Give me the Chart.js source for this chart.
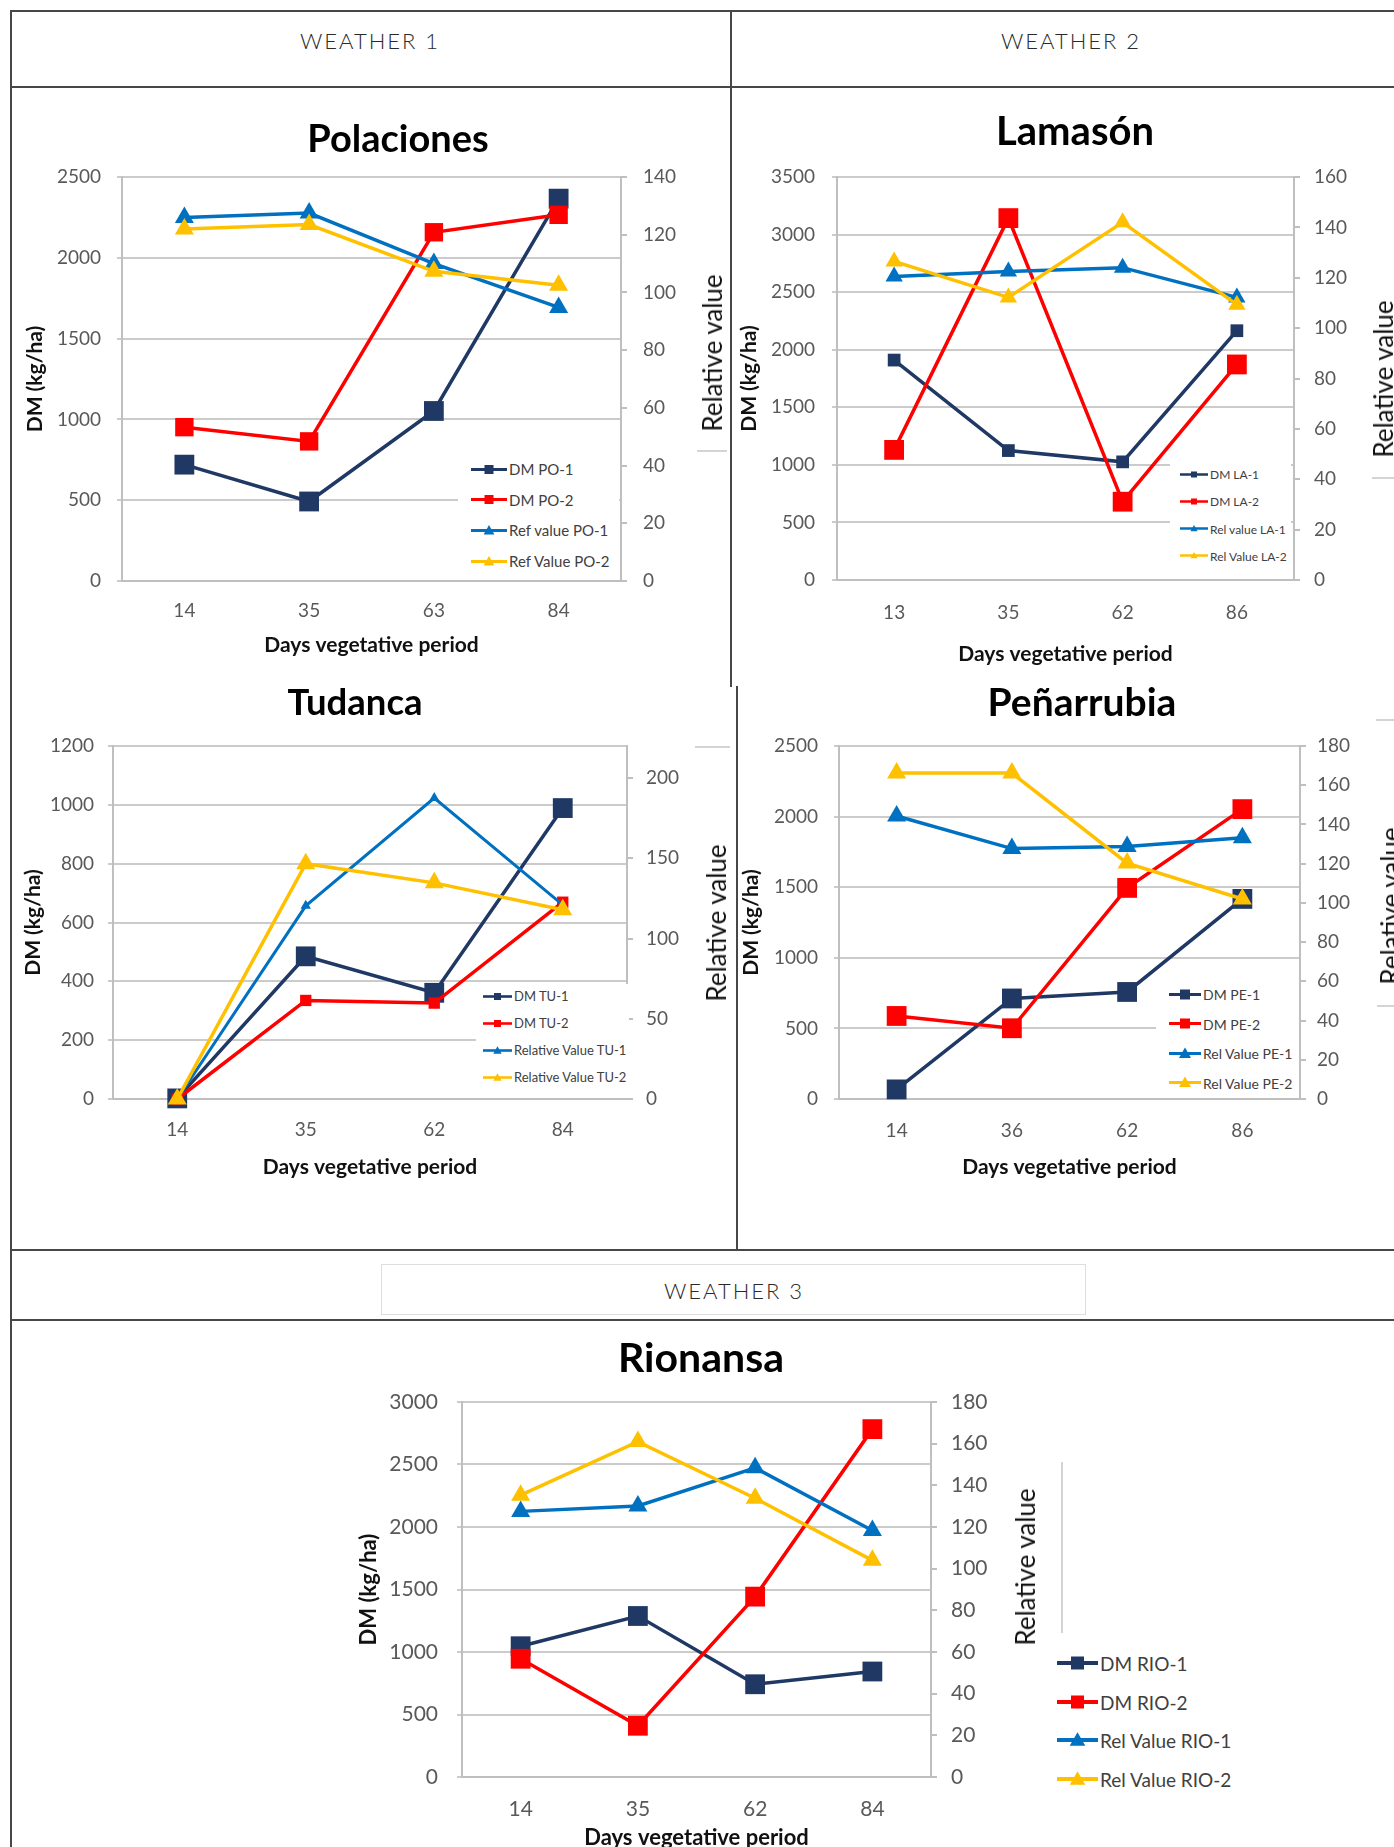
<!DOCTYPE html>
<html>
<head>
<meta charset="utf-8">
<title>DM and relative value by weather zone</title>
<script src="https://cdn.jsdelivr.net/npm/chart.js@4.4.1/dist/chart.umd.min.js"></script>
<style>
  html, body { margin: 0; padding: 0; background: #fff; }
  #page { position: relative; width: 1394px; height: 1847px; overflow: hidden; font-family: Lato, 'Open Sans', sans-serif; }
  .rule { position: absolute; background: #474747; }
  .faint { position: absolute; background: #d4d4d4; }
  .head { position: absolute; transform: translate(-50%, -50%); font-size: 22px; font-weight: 300; letter-spacing: 2px; color: #2a2a2a; white-space: nowrap; }
  .ttl { position: absolute; transform: translate(-50%, -50%); font-weight: 700; color: #000; white-space: nowrap; }
  .rv { position: absolute; transform: translate(-50%, -50%) rotate(-90deg); color: #111; white-space: nowrap; }
  canvas { position: absolute; }
  .legend { position: absolute; }
  .legend .item { position: absolute; display: flex; align-items: center; white-space: nowrap; transform: translateY(-50%); color: #404040; }
  .legend svg { margin-right: 2px; }
</style>
</head>
<body>
<div id="page"></div>
<script>
// ---- data ----
const daysPO = ['14', '35', '63', '84'];
const seriesPO = ['DM PO-1', 'DM PO-2', 'Ref value PO-1', 'Ref Value PO-2'];
const dmPO1 = [720, 492, 1052, 2366];
const dmPO2 = [952, 864, 2158, 2266];
const relPO1 = [126, 127.5, 110, 94.8];
const relPO2 = [122, 123.5, 107.3, 102.5];
const dmAxisPO = { max: 2500, step: 500 };
const relAxisPO = { max: 140, step: 20 };

const daysLA = ['13', '35', '62', '86'];
const seriesLA = ['DM LA-1', 'DM LA-2', 'Rel value LA-1', 'Rel Value LA-2'];
const dmLA1 = [1910, 1124, 1026, 2165];
const dmLA2 = [1130, 3143, 680, 1872];
const relLA1 = [120.5, 122.5, 124, 112.2];
const relLA2 = [126.5, 112.2, 142, 109.3];
const dmAxisLA = { max: 3500, step: 500 };
const relAxisLA = { max: 160, step: 20 };

const daysTU = ['14', '35', '62', '84'];
const seriesTU = ['DM TU-1', 'DM TU-2', 'Relative Value TU-1', 'Relative Value TU-2'];
const dmTU1 = [2, 485, 361, 989];
const dmTU2 = [0, 335, 326, 669];
const relTU1 = [0, 120.4, 187.6, 121];
const relTU2 = [0, 146.6, 134.7, 118];
const dmAxisTU = { max: 1200, step: 200 };
const relAxisTU = { max: 220, step: 50 };

const daysPE = ['14', '36', '62', '86'];
const seriesPE = ['DM PE-1', 'DM PE-2', 'Rel Value PE-1', 'Rel Value PE-2'];
const dmPE1 = [68, 712, 758, 1417];
const dmPE2 = [588, 501, 1495, 2053];
const relPE1 = [144.3, 127.7, 128.7, 133.2];
const relPE2 = [166.2, 166.2, 120.3, 102];
const dmAxisPE = { max: 2500, step: 500 };
const relAxisPE = { max: 180, step: 20 };

const daysRIO = ['14', '35', '62', '84'];
const seriesRIO = ['DM RIO-1', 'DM RIO-2', 'Rel Value RIO-1', 'Rel Value RIO-2'];
const dmRIO1 = [1046, 1288, 742, 844];
const dmRIO2 = [946, 410, 1443, 2783];
const relRIO1 = [127.5, 130.1, 148.4, 118.3];
const relRIO2 = [135.3, 161, 133.8, 104];
const dmAxisRIO = { max: 3000, step: 500 };
const relAxisRIO = { max: 180, step: 20 };

// ---- styles ----
const seriesColors = ['#1F3864', '#FF0000', '#0070C0', '#FFC000'];
const gridGrey = '#cbcbcb';
const axisGrey = '#bfbfbf';
const tickGrey = '#595959';
const TOP_PAD = 40;

Chart.defaults.font.family = 'Lato';

const page = document.getElementById('page');

function el(cls, css, text) {
  const d = document.createElement('div');
  d.className = cls;
  Object.assign(d.style, css);
  if (text) d.textContent = text;
  page.appendChild(d);
  return d;
}

// table frame
[
  [10, 10, 1384, 2], [10, 10, 2, 1837], [10, 86, 1384, 2],
  [730, 10, 2, 677], [736, 686, 2, 565],
  [10, 1249, 1384, 2], [10, 1319, 1384, 2]
].forEach(([x, y, w, h]) => el('rule', { left: x + 'px', top: y + 'px', width: w + 'px', height: h + 'px' }));
el('faint', { left: '381px', top: '1264px', width: '703px', height: '49px', background: 'transparent', border: '1px solid #dedede' });
[
  [697, 450, 30, 1.5], [1372, 477, 22, 1.5], [695, 746, 35, 1.5],
  [1376, 719, 18, 1.5], [1377, 1005, 17, 1.5], [1061, 1462, 1.5, 171]
].forEach(([x, y, w, h]) => el('faint', { left: x + 'px', top: y + 'px', width: w + 'px', height: h + 'px' }));

el('head', { left: '370px', top: '40px' }, 'WEATHER 1');
el('head', { left: '1071px', top: '40px' }, 'WEATHER 2');
el('head', { left: '734px', top: '1290px' }, 'WEATHER 3');

const panels = [
  { title: 'Polaciones', titleAt: [398, 137], titleSize: 38,
    days: daysPO, names: seriesPO, values: [dmPO1, dmPO2, relPO1, relPO2], dm: dmAxisPO, rel: relAxisPO,
    plot: { l: 122, t: 177, r: 621, b: 581 }, yLabelRight: 101, y1LabelLeft: 643, dmTitleX: 35,
    xLabelY: 611, xTitleY: 645, tickSize: 19, axisTitle: 21, rvAt: [712, 353], rvSize: 26,
    radii: [14, 13, 11, 11], widths: [3.5, 3.5, 3.5, 3.5],
    legend: { box: [458, 452, 619, 579], x: 471, y: 469, gap: 30.7, sym: 36, font: 15, mark: 9 } },
  { title: 'Lamasón', titleAt: [1075, 130], titleSize: 40,
    days: daysLA, names: seriesLA, values: [dmLA1, dmLA2, relLA1, relLA2], dm: dmAxisLA, rel: relAxisLA,
    plot: { l: 837, t: 177, r: 1294, b: 580 }, yLabelRight: 815, y1LabelLeft: 1314, dmTitleX: 749,
    xLabelY: 613, xTitleY: 654, tickSize: 19, axisTitle: 21, rvAt: [1383, 379], rvSize: 26,
    radii: [9, 14, 10, 10], widths: [3.5, 3.5, 3.5, 3.5],
    legend: { box: [1170, 458, 1291, 578], x: 1180, y: 474, gap: 27.3, sym: 28, font: 12, mark: 6 } },
  { title: 'Tudanca', titleAt: [355, 701], titleSize: 36.5,
    days: daysTU, names: seriesTU, values: [dmTU1, dmTU2, relTU1, relTU2], dm: dmAxisTU, rel: relAxisTU,
    plot: { l: 113, t: 746, r: 627, b: 1099 }, yLabelRight: 94, y1LabelLeft: 646, dmTitleX: 33,
    xLabelY: 1130, xTitleY: 1167, tickSize: 19, axisTitle: 21, rvAt: [716, 923], rvSize: 26,
    radii: [14, 8, 6, 11], widths: [3.5, 3.5, 3, 3.5],
    legend: { box: [476, 984, 629, 1098], x: 483, y: 996, gap: 27, sym: 29, font: 13, mark: 7 } },
  { title: 'Peñarrubia', titleAt: [1082, 701], titleSize: 39,
    days: daysPE, names: seriesPE, values: [dmPE1, dmPE2, relPE1, relPE2], dm: dmAxisPE, rel: relAxisPE,
    plot: { l: 839, t: 746, r: 1300, b: 1099 }, yLabelRight: 818, y1LabelLeft: 1317, dmTitleX: 751,
    xLabelY: 1131, xTitleY: 1167, tickSize: 19, axisTitle: 21, rvAt: [1390, 906], rvSize: 26,
    radii: [14, 14, 11, 11], widths: [3.5, 3.5, 3.5, 3.5],
    legend: { box: [1156, 985, 1299, 1097], x: 1169, y: 994, gap: 29.5, sym: 32, font: 14, mark: 10 } },
  { title: 'Rionansa', titleAt: [701, 1356], titleSize: 41,
    days: daysRIO, names: seriesRIO, values: [dmRIO1, dmRIO2, relRIO1, relRIO2], dm: dmAxisRIO, rel: relAxisRIO,
    plot: { l: 462, t: 1402, r: 931, b: 1777 }, yLabelRight: 438, y1LabelLeft: 951, dmTitleX: 369,
    xLabelY: 1809, xTitleY: 1838, tickSize: 21, axisTitle: 22, rvAt: [1025, 1567], rvSize: 26,
    radii: [14, 14, 11, 11], widths: [3.5, 3.5, 3.5, 3.5],
    legend: { box: null, x: 1057, y: 1663, gap: 38.7, sym: 41, font: 19, mark: 13 } }
];

function symbol(color, isRect, sym, mark, lw) {
  const h = mark + 6, c = h / 2;
  const m = isRect
    ? `<rect x="${sym / 2 - mark / 2}" y="${c - mark / 2}" width="${mark}" height="${mark}" fill="${color}"/>`
    : `<polygon points="${sym / 2},${c - mark * 0.6} ${sym / 2 + mark * 0.6},${c + mark * 0.45} ${sym / 2 - mark * 0.6},${c + mark * 0.45}" fill="${color}"/>`;
  return `<svg width="${sym}" height="${h}"><line x1="0" y1="${c}" x2="${sym}" y2="${c}" stroke="${color}" stroke-width="${lw}"/>${m}</svg>`;
}

function buildLegend(chart, p) {
  const L = p.legend;
  const ox = L.box ? L.box[0] : 0, oy = L.box ? L.box[1] : 0;
  const box = el('legend', L.box
    ? { left: ox + 'px', top: oy + 'px', width: (L.box[2] - ox) + 'px', height: (L.box[3] - oy) + 'px', background: '#fff' }
    : { left: '0px', top: '0px' });
  chart.data.datasets.forEach((ds, i) => {
    const item = document.createElement('div');
    item.className = 'item';
    item.style.left = (L.x - ox) + 'px';
    item.style.top = (L.y + i * L.gap - oy) + 'px';
    item.style.fontSize = L.font + 'px';
    item.innerHTML = symbol(ds.borderColor, ds.pointStyle === 'rect', L.sym, L.mark, Math.max(2, L.font / 5)) + `<span>${ds.label}</span>`;
    box.appendChild(item);
  });
}

function makePanel(p) {
  // the y scales ask for (half label + tick padding) above the plot, so leave a fixed roomy margin
  const cl = p.dmTitleX - 16, ct = p.plot.t - TOP_PAD, cr = p.plot.r + 80, cb = p.xTitleY + 16;
  const canvas = document.createElement('canvas');
  canvas.width = cr - cl;
  canvas.height = cb - ct;
  canvas.style.left = cl + 'px';
  canvas.style.top = ct + 'px';
  page.appendChild(canvas);

  const tickFont = { family: 'Lato', size: p.tickSize };
  const titleFont = { family: 'Lato', size: p.axisTitle, weight: 'bold' };
  const tickLH = p.tickSize * 1.2, titleLH = p.axisTitle * 1.2;

  const chart = new Chart(canvas, {
    type: 'line',
    data: {
      labels: p.days,
      datasets: p.values.map((v, i) => ({
        label: p.names[i],
        data: v,
        yAxisID: i < 2 ? 'y' : 'y1',
        borderColor: seriesColors[i],
        backgroundColor: seriesColors[i],
        borderWidth: p.widths[i],
        pointStyle: i < 2 ? 'rect' : 'triangle',
        pointRadius: p.radii[i],
        pointBorderWidth: 0,
        tension: 0,
        clip: false,
        order: 4 - i
      }))
    },
    options: {
      responsive: false,
      animation: false,
      layout: { padding: { top: TOP_PAD, left: 0, right: 0, bottom: 0 } },
      plugins: { legend: { display: false }, tooltip: { enabled: false } },
      scales: {
        x: {
          offset: true,
          grid: { display: false, drawTicks: false },
          border: { display: true, color: axisGrey, width: 2 },
          ticks: { font: tickFont, color: tickGrey, padding: p.xLabelY - p.plot.b - tickLH / 2 },
          title: { display: true, text: 'Days vegetative period', font: titleFont, color: '#111',
                   padding: { top: 0, bottom: cb - p.xTitleY - titleLH / 2 } },
          afterFit: s => { s.height = cb - p.plot.b; }
        },
        y: {
          position: 'left', min: 0, max: p.dm.max,
          ticks: { stepSize: p.dm.step, font: tickFont, color: tickGrey, padding: p.plot.l - 5 - p.yLabelRight,
                   callback: v => String(v) },
          grid: { color: gridGrey, lineWidth: 2, tickLength: 5 },
          border: { display: true, color: axisGrey, width: 2 },
          title: { display: true, text: 'DM (kg/ha)', font: titleFont, color: '#111',
                   padding: { top: p.dmTitleX - cl - titleLH / 2, bottom: 0 } },
          afterFit: s => { s.width = p.plot.l - cl; }
        },
        y1: {
          position: 'right', min: 0, max: p.rel.max, bounds: 'data',
          ticks: { stepSize: p.rel.step, font: tickFont, color: tickGrey,
                   padding: p.y1LabelLeft - p.plot.r - 6, callback: v => String(v) },
          grid: { drawOnChartArea: false, color: axisGrey, lineWidth: 2, tickLength: 6 },
          border: { display: true, color: axisGrey, width: 2 },
          // keep only whole steps (Tudanca tops out at 220 with ticks every 50)
          afterBuildTicks: s => { s.ticks = s.ticks.filter(t => t.value % p.rel.step === 0); },
          afterFit: s => { s.width = cr - p.plot.r; }
        }
      }
    }
  });

  el('ttl', { left: p.titleAt[0] + 'px', top: p.titleAt[1] + 'px', fontSize: p.titleSize + 'px' }, p.title);
  el('rv', { left: p.rvAt[0] + 'px', top: p.rvAt[1] + 'px', fontSize: p.rvSize + 'px' }, 'Relative value');
  buildLegend(chart, p);
}

panels.forEach(makePanel);
</script>
</body>
</html>
